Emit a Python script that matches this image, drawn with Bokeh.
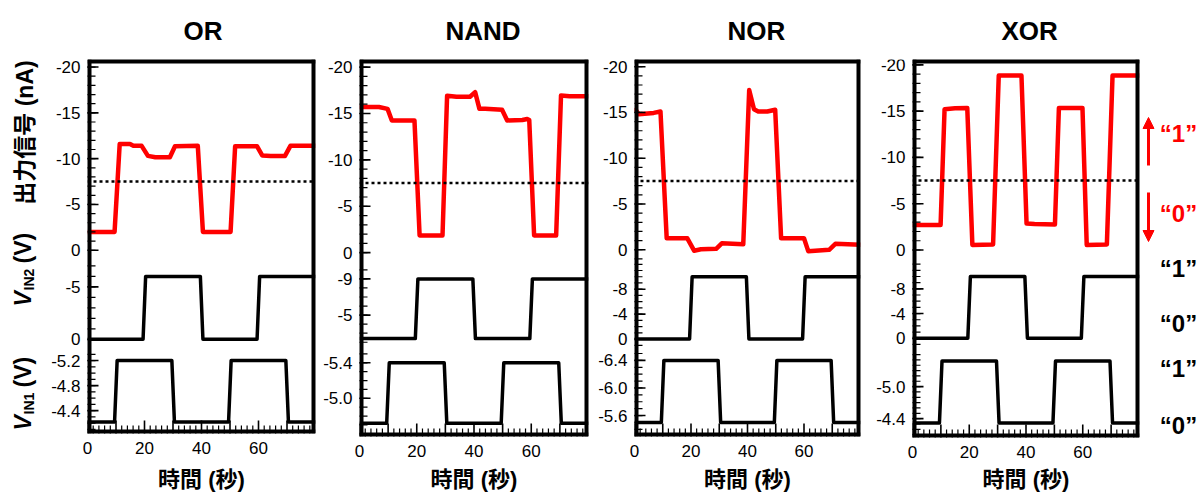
import math
import numpy as np
from bokeh.plotting import figure
from bokeh.layouts import row, column
from bokeh.models import (Range1d, LinearAxis, FixedTicker, NumeralTickFormatter,
                          Span, Arrow, NormalHead)
from bokeh.core.properties import value
from bokeh.embed import file_html
from bokeh.resources import INLINE

# ---------------- data ----------------
gates = ["OR", "NAND", "NOR", "XOR"]
threshold_nA = -7.5

or_t = [0, 9.5, 11.3, 14.9, 16.1, 19.0, 21.2, 23.8, 28.9, 30.7, 38.7, 40.5, 50.2, 51.8, 59.5, 61.3, 64.3, 69.3, 71.2, 80]
or_i = [-2.0, -2.0, -11.6, -11.6, -11.4, -11.4, -10.3, -10.15, -10.15, -11.35, -11.4, -2.0, -2.0, -11.35, -11.35, -10.35, -10.3, -10.3, -11.4, -11.4]

nand_t = [0, 6.8, 9.8, 11.3, 19.2, 21.0, 29.0, 30.6, 33.9, 38.6, 40.4, 41.9, 43.9, 49.8, 51.6, 56.9, 58.6, 59.3, 61.0, 68.7, 70.4, 73.4, 80]
nand_i = [-15.7, -15.7, -15.5, -14.25, -14.25, -1.85, -1.85, -16.9, -16.8, -16.8, -17.3, -15.5, -15.5, -15.4, -14.25, -14.3, -14.4, -14.3, -1.85, -1.85, -16.95, -16.85, -16.85]

nor_t = [0, 1.5, 6.8, 9.2, 11.4, 18.7, 21.1, 23.5, 28.9, 30.9, 38.5, 40.6, 42.3, 43.8, 47.0, 49.8, 51.9, 60.0, 61.5, 68.9, 71.1, 80]
nor_i = [-15.5, -14.8, -14.95, -15.1, -1.25, -1.25, 0.1, -0.05, -0.1, -0.7, -0.6, -17.45, -15.35, -15.1, -15.1, -15.3, -1.25, -1.25, 0.15, 0.0, -0.65, -0.55]

xor_t = [0, 9.9, 11.3, 15.0, 19.3, 21.1, 28.4, 30.4, 38.4, 40.2, 43.0, 50.2, 51.6, 59.9, 61.4, 68.5, 70.5, 80]
xor_i = [-2.7, -2.7, -15.2, -15.3, -15.35, -0.55, -0.6, -18.85, -18.85, -2.85, -2.8, -2.75, -15.35, -15.35, -0.55, -0.6, -18.85, -18.85]

out_t = [or_t, nand_t, nor_t, xor_t]
out_i = [or_i, nand_i, nor_i, xor_i]

in1_t = [0, 9.5, 10.4, 29.6, 30.5, 49.5, 50.4, 69.6, 70.5, 80]
in1_on = [0, 0, 1, 1, 0, 0, 1, 1, 0, 0]
in2_t = [0, 19.5, 20.4, 39.6, 40.5, 59.5, 60.4, 80]
in2_on = [0, 0, 1, 1, 0, 0, 1, 1]

vin1_lo = [-4.22, -4.72, -5.50, -4.32]
vin1_hi = [-5.20, -5.40, -6.40, -5.48]
vin2_lo = [0.0, -2.4, 0.0, 0.0]
vin2_hi = [-6.0, -9.0, -10.0, -10.0]

out_ticks = [-20, -15, -10, -5, 0]
v2_ticks = [[-5, 0], [-9, -5], [-8, -4, 0], [-8, -4, 0]]
v1_ticks = [[-5.2, -4.8, -4.4], [-5.4, -5.0], [-6.4, -6.0, -5.6], [-5.0, -4.4]]
time_ticks = [0, 20, 40, 60]

y_label_out = "出力信号 (nA)"
x_label = "時間 (秒)"
state_labels = ["“1”", "“0”"]

# ---------------- layout / style ----------------
H = 494
W_LAB = 46
W_ANN = 63
PADL = 6                       # left border of each main panel
bl = [41, 40, 41, 45]          # space for tick labels + PADL
fw = [228, 229, 226, 227]      # frame widths
br = [4, 5, 7, 2]
tops = [54, 56, 55, 58]        # frame top (px)
b1s = [258, 262, 261, 262]     # output / V_IN2 section boundary (px)
b2s = [349, 351, 350, 350]     # V_IN2 / V_IN1 section boundary (px)
bots = [435, 438, 438, 439]    # frame bottom (px)
xlab_standoff = [10, 7, 7, 6]
title_off = [96, 86, 93, 89]
# axis calibration per section: (pixel row, value at that row, pixels per unit)
cal_out = [(248.3, 0.0, 9.33), (251.7, 0.0, 9.4), (248.3, 0.0, 9.3), (250.0, 0.0, 9.33)]
cal_v2 = [(339.0, 0.0, 10.67), (278.3, -9.0, 9.17), (339.0, 0.0, 6.33), (339.0, 0.0, 6.23)]
cal_v1 = [(360.7, -5.2, 63.75), (363.3, -5.4, 90.0), (360.7, -6.4, 70.0), (387.7, -5.0, 53.8)]

FONT = "Liberation Sans"
CJK = "Liberation Sans, Noto Sans CJK JP"
RED = "#ff0000"
FRAME_W = 8      # half of it is visible inside the frame
MAJ = 22         # dash size -> 11 px visible inside the frame
MIN = 16


def val(cal, y):
    y0, v0, s = cal
    return v0 + (y - y0) / s


def span_range(cal, top, bottom):
    return Range1d(start=val(cal, bottom), end=val(cal, top))


def ticks_between(a, b, step):
    lo, hi = min(a, b) + 0.3 * step, max(a, b) - 0.3 * step
    return [round(n * step, 3) for n in range(math.ceil(lo / step), math.floor(hi / step) + 1)]


def fmt(v, nd):
    return f"{v:.{nd}f}"


def tick_marks(p, ticks, minor, rng):
    kw = {} if rng is None else {"y_range_name": rng}
    p.scatter(x=[0] * len(minor), y=minor, marker="dash", size=MIN,
              line_color="black", line_width=1.2, **kw)
    p.scatter(x=[0] * len(ticks), y=ticks, marker="dash", size=MAJ,
              line_color="black", line_width=1.6, **kw)


t_major = list(range(0, 80, 10))
t_minor = [m for m in range(2, 80, 2) if m % 10]

children = []

# ---------------- left labels ----------------
lab = figure(width=W_LAB, height=H, x_range=Range1d(0, W_LAB), y_range=Range1d(0, H),
             x_axis_type=None, y_axis_type=None, output_backend="svg",
             toolbar_location=None, tools="", min_border=0)
lab.outline_line_color = None
A = np.pi / 2
lab.text(x=[24], y=[H - 132], text=[y_label_out], angle=A, text_font=value(CJK),
         text_font_size="23px", text_font_style="bold", text_align="center",
         text_baseline="middle", text_color="black")
lab.text(x=[22, 22], y=[H - 306, H - 430], text=["V", "V"], angle=A, text_font=value(FONT),
         text_font_size="23px", text_font_style="bold italic", text_align="left",
         text_baseline="middle", text_color="black")
lab.text(x=[28, 28], y=[H - 290, H - 414], text=["IN2", "IN1"], angle=A, text_font=value(FONT),
         text_font_size="14px", text_font_style="bold", text_align="left",
         text_baseline="middle", text_color="black")
lab.text(x=[22, 22], y=[H - 263, H - 387], text=["(V)", "(V)"], angle=A, text_font=value(FONT),
         text_font_size="23px", text_font_style="bold", text_align="left",
         text_baseline="middle", text_color="black")
children.append(column(lab, spacing=0))

for k, g in enumerate(gates):
    T, B, b1, b2 = tops[k], bots[k], b1s[k], b2s[k]
    r_out = span_range(cal_out[k], T, B)
    r_v2 = span_range(cal_v2[k], T, B)
    r_v1 = span_range(cal_v1[k], T, B)
    out_minor = ticks_between(val(cal_out[k], T), val(cal_out[k], b1), 1)
    v2_minor = ticks_between(val(cal_v2[k], b1), val(cal_v2[k], b2), 1)
    v1_minor = ticks_between(val(cal_v1[k], b2), val(cal_v1[k], B), 0.1)

    # ---- tick-label strip (same vertical frame as the panel)
    tw = bl[k] - PADL
    q = figure(width=tw, height=H, x_range=Range1d(0, tw), y_range=r_out,
               x_axis_type=None, y_axis_type=None, output_backend="svg",
               toolbar_location=None, tools="", min_border=0,
               min_border_top=T, min_border_bottom=H - B)
    q.extra_y_ranges = {"v2": r_v2, "v1": r_v1}
    q.outline_line_color = None
    lab_kw = dict(text_font=value(FONT), text_font_size="17px", text_align="right",
                  text_baseline="middle", text_color="black")
    q.text(x=[tw - 1] * len(out_ticks), y=out_ticks, text=[fmt(v, 0) for v in out_ticks], **lab_kw)
    q.text(x=[tw - 1] * len(v2_ticks[k]), y=v2_ticks[k], text=[fmt(v, 0) for v in v2_ticks[k]],
           y_range_name="v2", **lab_kw)
    q.text(x=[tw - 1] * len(v1_ticks[k]), y=v1_ticks[k], text=[fmt(v, 1) for v in v1_ticks[k]],
           y_range_name="v1", **lab_kw)

    # ---- main panel (one frame, three stacked signals)
    p = figure(width=PADL + fw[k] + br[k], height=H, x_range=Range1d(0, 80), y_range=r_out,
               x_axis_type=None, y_axis_type=None, output_backend="svg",
               toolbar_location=None, tools="", min_border=0,
               min_border_left=PADL, min_border_right=br[k],
               min_border_top=T, min_border_bottom=H - B)
    p.extra_y_ranges = {"v2": r_v2, "v1": r_v1}
    p.outline_line_color = None
    p.background_fill_color = "white"
    p.border_fill_color = "white"

    p.add_layout(Span(location=threshold_nA, dimension="width", line_color="black",
                      line_width=2.5, line_dash="3 3"))
    p.line(out_t[k], out_i[k], line_color=RED, line_width=4.5, line_join="round")
    v2 = [vin2_hi[k] if s else vin2_lo[k] for s in in2_on]
    p.line(in2_t, v2, line_color="black", line_width=3.5, line_join="round", y_range_name="v2")
    v1 = [vin1_hi[k] if s else vin1_lo[k] for s in in1_on]
    p.line(in1_t, v1, line_color="black", line_width=3.5, line_join="round", y_range_name="v1")

    # frame (drawn inside the frame area)
    p.vspan(x=[0, 80], line_width=FRAME_W, line_color="black")
    p.hspan(y=[r_out.start, r_out.end], line_width=FRAME_W, line_color="black")

    # inward ticks
    tick_marks(p, out_ticks, out_minor, None)
    tick_marks(p, v2_ticks[k], v2_minor, "v2")
    tick_marks(p, v1_ticks[k], v1_minor, "v1")
    p.scatter(x=t_minor, y=[r_out.start] * len(t_minor), marker="dash", angle=np.pi / 2,
              size=MIN, line_color="black", line_width=1.2)
    p.scatter(x=t_major, y=[r_out.start] * len(t_major), marker="dash", angle=np.pi / 2,
              size=26, line_color="black", line_width=1.6)

    # title
    p.title.text = g
    p.title.text_font = FONT
    p.title.text_font_size = "26px"
    p.title.text_font_style = "bold"
    p.title.text_color = "black"
    p.title.align = "left"
    p.title.offset = title_off[k]
    p.title.standoff = 27

    # time axis (labels only)
    xa = LinearAxis(ticker=FixedTicker(ticks=time_ticks),
                    formatter=NumeralTickFormatter(format="0"))
    xa.axis_line_color = None
    xa.major_tick_in = 0
    xa.major_tick_out = 0
    xa.minor_tick_in = 0
    xa.minor_tick_out = 0
    xa.major_label_text_font = FONT
    xa.major_label_text_font_size = "17px"
    xa.major_label_text_color = "black"
    xa.major_label_standoff = 8
    xa.axis_label = x_label
    xa.axis_label_text_font = CJK
    xa.axis_label_text_font_size = "22px"
    xa.axis_label_text_font_style = "bold"
    xa.axis_label_text_color = "black"
    xa.axis_label_standoff = xlab_standoff[k]
    p.add_layout(xa, "below")

    children.append(row(q, p, spacing=0))

# ---------------- right annotations ----------------
ann = figure(width=W_ANN, height=H, x_range=Range1d(0, W_ANN), y_range=Range1d(0, H),
             x_axis_type=None, y_axis_type=None, output_backend="svg",
             toolbar_location=None, tools="", min_border=0)
ann.outline_line_color = None
ann.add_layout(Arrow(end=NormalHead(size=11, fill_color=RED, line_color=RED),
                     x_start=7, y_start=H - 165, x_end=7, y_end=H - 117,
                     line_color=RED, line_width=3))
ann.add_layout(Arrow(end=NormalHead(size=11, fill_color=RED, line_color=RED),
                     x_start=7, y_start=H - 192, x_end=7, y_end=H - 241,
                     line_color=RED, line_width=3))
ann.text(x=[37, 37], y=[H - 133, H - 213], text=state_labels, text_font=value(FONT),
         text_font_size="24px", text_font_style="bold", text_align="center",
         text_baseline="middle", text_color=RED)
ann.text(x=[37, 37, 37, 37], y=[H - 268, H - 323, H - 368, H - 425],
         text=state_labels + state_labels, text_font=value(FONT),
         text_font_size="24px", text_font_style="bold", text_align="center",
         text_baseline="middle", text_color="black")
children.append(column(ann, spacing=0))

layout = row(*children, spacing=0)
open("out.html", "w").write(file_html(layout, INLINE, title="logic gates"))
